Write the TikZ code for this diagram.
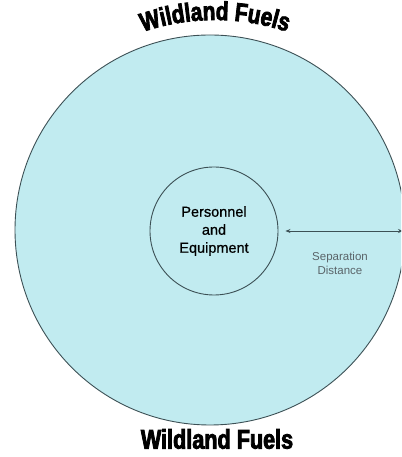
\documentclass[tikz,border=0pt]{standalone}
\usepackage{fontspec}
\setmainfont{Liberation Sans}
\newfontfamily\heavyfont[FakeBold=3,FakeStretch=0.8]{Liberation Sans Bold}
\newfontfamily\midfont[FakeBold=0.7]{Liberation Sans}
\usetikzlibrary{decorations.text,arrows.meta}
\definecolor{fuelfill}{RGB}{193,235,240}
\definecolor{rimline}{RGB}{60,80,85}
\definecolor{labelgray}{RGB}{90,100,105}
\tikzset{
  ring/.style={draw=rimline, line width=0.9pt, circle, inner sep=0pt},
  maintext/.style={font=\midfont\fontsize{14.5}{18}\selectfont, align=center, text=black},
  smalltext/.style={font=\fontsize{11.5}{14}\selectfont, align=center, text=labelgray},
  gap/.style={draw=rimline, line width=0.9pt, {Stealth[length=5pt,width=4pt]}-{Stealth[length=5pt,width=4pt]}}
}
\begin{document}
\begin{tikzpicture}[x=1pt,y=1pt]
\useasboundingbox (0,0) rectangle (401,457);
\begin{scope}
\clip (0,0) rectangle (401,457);
% outer circle
\node[ring, fill=fuelfill, minimum size=390pt] (outer) at (210,227) {};
% inner circle
\node[ring, minimum size=128pt] (inner) at (214,226) {};
\node[maintext] (pe) at (214,226) {Personnel\\and\\Equipment};
\coordinate (rim) at (403,226);
\draw[gap] (inner.east) ++(7,0) coordinate (ia) -- (rim);
\node[smalltext] (sd) at (340,194) {Separation\\Distance};
% top arched title
\path[decorate, decoration={text along path, text align=center,
  text={|\heavyfont\fontsize{26}{26}\selectfont|Wildland Fuels}}]
  (215,212) ++(120:225) arc[start angle=120, end angle=60, radius=225];
% bottom title
\node[font=\heavyfont\fontsize{27}{27}\selectfont, inner sep=0pt] (bottom) at (217,18) {Wildland Fuels};
\end{scope}
\end{tikzpicture}
\end{document}
